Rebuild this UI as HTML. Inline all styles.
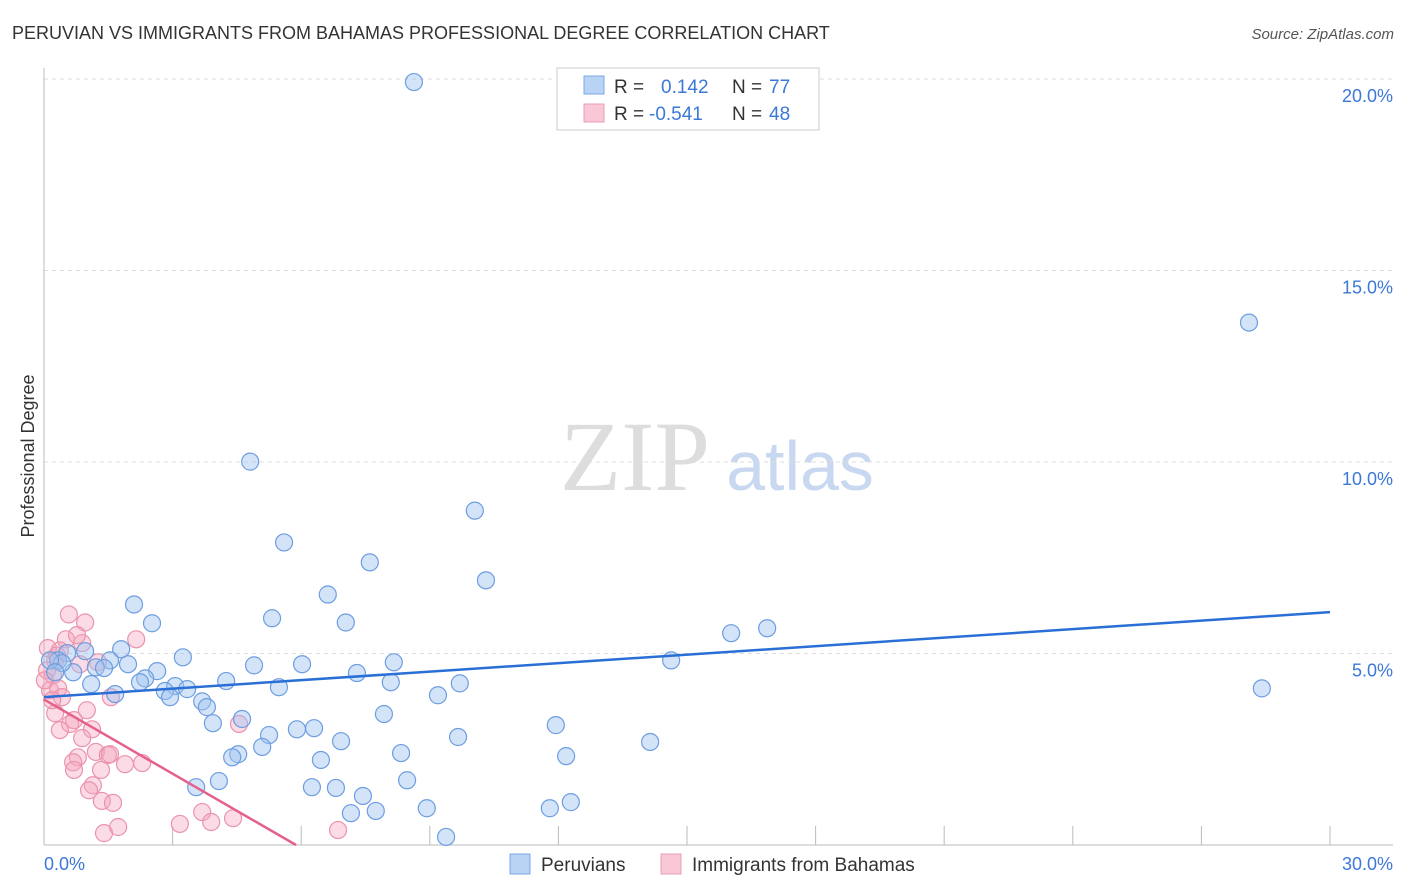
<!DOCTYPE html>
<html><head><meta charset="utf-8"><style>
body{margin:0;background:#fff;font-family:"Liberation Sans",sans-serif;}
#wrap{position:relative;width:1406px;height:892px;overflow:hidden;}
</style></head><body>
<div id="wrap">
<svg id="chart" width="1406" height="892">
<text x="12" y="39" font-size="18" fill="#333">PERUVIAN VS IMMIGRANTS FROM BAHAMAS PROFESSIONAL DEGREE CORRELATION CHART</text>
<text x="1394" y="39" font-size="15" fill="#555" font-style="italic" text-anchor="end">Source: ZipAtlas.com</text>
<text x="34" y="456" font-size="18" fill="#333" text-anchor="middle" transform="rotate(-90 34 456)">Professional Degree</text>
<g>
<text x="635" y="490" font-size="100" fill="#ddd" font-family="Liberation Serif,serif" text-anchor="middle">ZIP</text>
<text x="800" y="490" font-size="70" fill="#c8d8f0" text-anchor="middle">atlas</text>
</g>
<g id="grid"></g><g id="axes"></g><g id="pink"></g><g id="blue"></g><g id="lines"></g>
<g>
<rect x="557" y="68" width="262" height="62" fill="#fff" stroke="#ccc"/>
<rect x="584" y="76" width="20" height="18" fill="#b9d3f5" stroke="#7aa7e6"/>
<rect x="584" y="104" width="20" height="18" fill="#f8c8d6" stroke="#ec9cb4"/>
<text x="614" y="93" font-size="19" fill="#333">R = </text><text x="661" y="93" font-size="19" fill="#3b78d8">0.142</text>
<text x="732" y="93" font-size="19" fill="#333">N = </text><text x="769" y="93" font-size="19" fill="#3b78d8">77</text>
<text x="614" y="120" font-size="19" fill="#333">R = </text><text x="649" y="120" font-size="19" fill="#3b78d8">-0.541</text>
<text x="732" y="120" font-size="19" fill="#333">N = </text><text x="769" y="120" font-size="19" fill="#3b78d8">48</text>
</g>
<g>
<rect x="510" y="854" width="20" height="20" fill="#b9d3f5" stroke="#7aa7e6"/>
<text x="541" y="871" font-size="19" fill="#333">Peruvians</text>
<rect x="661" y="854" width="20" height="20" fill="#f8c8d6" stroke="#ec9cb4"/>
<text x="692" y="871" font-size="19" fill="#333">Immigrants from Bahamas</text>
</g>
</svg>
</div>
<script>
const yTicks=[5,10,15,20];
const yTickLabels=["5.0%","10.0%","15.0%","20.0%"];
const xTickLabels=["0.0%","30.0%"];
const blueX=[8.63,28.11,4.81,10.05,5.60,7.60,10.31,6.62,2.10,5.32,2.52,7.04,16.03,16.87,1.80,3.24,0.54,0.33,0.96,1.54,1.96,4.90,6.02,8.16,14.63,1.21,1.40,0.68,2.64,2.36,2.24,3.06,4.25,7.30,8.09,9.70,28.41,1.10,2.82,3.34,2.94,5.48,1.66,3.69,3.80,9.19,7.93,4.62,3.94,11.94,5.90,6.30,5.25,9.66,6.93,14.14,5.09,4.53,4.39,8.33,12.18,6.46,4.08,3.55,6.25,6.81,8.47,7.44,7.16,7.74,8.93,11.80,12.29,9.38,0.42,0.14,0.26];
const blueY=[19.92,13.64,10.01,8.73,7.90,7.38,6.91,6.54,6.28,5.92,5.79,5.81,5.53,5.66,5.11,4.90,5.01,4.82,5.06,4.82,4.72,4.69,4.72,4.77,4.82,4.64,4.62,4.51,4.54,4.35,4.25,4.15,4.28,4.49,4.25,4.22,4.09,4.20,4.02,4.07,3.86,4.12,3.94,3.75,3.60,3.91,3.42,3.29,3.18,3.13,3.02,3.05,2.87,2.82,2.71,2.69,2.56,2.37,2.29,2.40,2.32,2.22,1.67,1.51,1.51,1.49,1.69,1.28,0.83,0.89,0.96,0.96,1.12,0.21,4.75,4.82,4.51];
const pinkX=[0.58,0.96,0.51,0.89,2.15,0.84,1.26,0.77,0.26,0.21,0.14,0.33,0.42,0.26,0.70,0.61,1.12,0.37,0.89,0.79,0.68,1.21,1.49,1.33,0.70,1.14,1.05,1.89,2.29,1.54,1.35,1.61,1.40,1.73,3.17,3.69,3.90,4.41,4.55,1.56,6.86,0.09,0.07,0.19,0.37,0.02,1.00,0.30];
const pinkY=[6.02,5.81,5.37,5.27,5.37,4.72,4.77,5.48,4.82,4.43,4.04,4.09,3.86,3.44,3.26,3.16,3.02,3.00,2.79,2.29,2.16,2.43,2.35,1.96,1.96,1.56,1.43,2.11,2.14,2.37,1.15,1.10,0.31,0.47,0.55,0.86,0.60,0.70,3.16,3.86,0.39,5.14,4.56,3.78,5.08,4.30,3.52,4.95];
const blueTrend=[3.86,6.08];
const pinkTrend=[3.8,0];
const pinkTrendEndX=5.88;

const NS="http://www.w3.org/2000/svg";
const X0=44,X1=1330,Y0=845,Y20=79;
function sx(v){return X0+(X1-X0)*v/30;}
function sy(v){return Y0-(Y0-Y20)*v/20;}
function mk(tag,attrs,parent){const e=document.createElementNS(NS,tag);for(const k in attrs)e.setAttribute(k,attrs[k]);parent.appendChild(e);return e;}
const grid=document.getElementById('grid'),axes=document.getElementById('axes');
yTicks.forEach((t,i)=>{
 const l=mk('line',{x1:X0,x2:1393,y1:sy(t),y2:sy(t),stroke:'#ddd','stroke-dasharray':'4,4'},grid);
 
 
 const tx=mk('text',{x:1393,y:sy(t)+23,'font-size':18,fill:'#3b78d8','text-anchor':'end'},axes);
 tx.textContent=yTickLabels[i];
 
 
});
const la=mk('line',{x1:X0,x2:X0,y1:68,y2:Y0,stroke:'#bbb'},axes);


const ba=mk('line',{x1:X0,x2:1393,y1:Y0,y2:Y0,stroke:'#bbb'},axes);


for(let i=1;i<=10;i++){
 const tk=mk('line',{x1:sx(i*3),x2:sx(i*3),y1:826,y2:Y0,stroke:'#bbb'},axes);
 
 
}
[0,30].forEach((v,i)=>{
 const tx=mk('text',{x:i?1393:44,y:870,'font-size':18,fill:'#3b78d8','text-anchor':i?'end':'start'},axes);
 tx.textContent=xTickLabels[i];
 
 
});
const pg=document.getElementById('pink'),bg=document.getElementById('blue');
pinkX.forEach((x,i)=>{
 const c=mk('circle',{cx:sx(x),cy:sy(pinkY[i]),r:8.5,fill:'rgba(245,165,190,0.4)',stroke:'#ea93ad','stroke-width':1.2},pg);
 
 
});
blueX.forEach((x,i)=>{
 const c=mk('circle',{cx:sx(x),cy:sy(blueY[i]),r:8.5,fill:'rgba(160,196,240,0.45)',stroke:'#6d9de0','stroke-width':1.2},bg);
 
 
});
const lg=document.getElementById('lines');
const bl=mk('line',{x1:sx(0),y1:sy(blueTrend[0]),x2:sx(30),y2:sy(blueTrend[1]),stroke:'#2a6fd6','stroke-width':2.5},lg);


const pl=mk('line',{x1:sx(0),y1:sy(pinkTrend[0]),x2:sx(pinkTrendEndX),y2:sy(pinkTrend[1]),stroke:'#e5608a','stroke-width':2.5},lg);


</script>
</body></html>
